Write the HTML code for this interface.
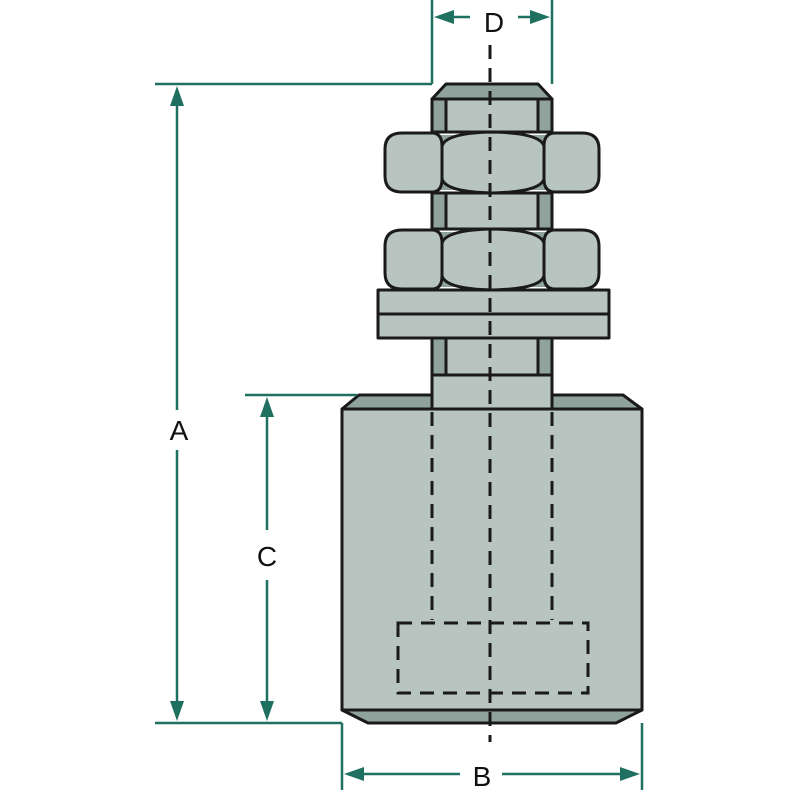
<!DOCTYPE html>
<html><head><meta charset="utf-8"><style>html,body{margin:0;padding:0;background:#fff}svg{display:block}</style></head>
<body>
<svg width="800" height="800" viewBox="0 0 800 800" xmlns="http://www.w3.org/2000/svg">
<defs>
<g id="nut">
  <rect x="392" y="3" width="200" height="55" fill="#8fa39c"/>
  <path d="M402,1 L432,1 Q442,1 442,14 L442,47 Q442,60 432,60 L402,60 Q385,60 385,44 L385,17 Q385,1 402,1 Z" fill="#b8c4c0" stroke="#1a1a1a" stroke-width="3"/>
  <path d="M555,1 L582,1 Q599,1 599,17 L599,44 Q599,60 582,60 L555,60 Q544,60 544,47 L544,14 Q544,1 555,1 Z" fill="#b8c4c0" stroke="#1a1a1a" stroke-width="3"/>
  <path d="M442,14 Q446,1 492,0 Q540,1 544,14 L544,47 Q540,60 492,61 Q446,60 442,47 Z" fill="#b8c4c0" stroke="#1a1a1a" stroke-width="3"/>
</g>
</defs>
<g stroke="#1a1a1a" stroke-width="3" stroke-linejoin="round">
  <rect x="342" y="409" width="300" height="301" fill="#b8c4c0"/>
  <polygon points="359,395 623,395 642,409 342,409" fill="#8fa39c"/>
  <polygon points="342,710 642,710 616,723 368,723" fill="#8fa39c"/>
  <rect x="432" y="375" width="120" height="34" fill="#b8c4c0"/>
  <rect x="432" y="338" width="120" height="37" fill="#8fa39c"/>
  <rect x="446" y="338" width="92" height="37" fill="#b8c4c0"/>
  <rect x="432" y="193" width="120" height="36" fill="#8fa39c"/>
  <rect x="446" y="193" width="92" height="36" fill="#b8c4c0"/>
  <rect x="432" y="99" width="120" height="33" fill="#8fa39c"/>
  <rect x="446" y="99" width="92" height="33" fill="#b8c4c0"/>
  <polygon points="446,84 538,84 552,99 432,99" fill="#8fa39c"/>
  <rect x="378" y="290" width="231" height="24" fill="#b8c4c0"/>
  <rect x="378" y="314" width="231" height="24" fill="#b8c4c0"/>
</g>
<use href="#nut" y="132"/>
<use href="#nut" y="229"/>
<g stroke="#1a1a1a" stroke-width="3" fill="none" stroke-dasharray="14,9">
  <line x1="432" y1="412" x2="432" y2="620"/>
  <line x1="552" y1="412" x2="552" y2="620"/>
  <rect x="398" y="623" width="190" height="70"/>
  <line x1="490" y1="45" x2="490" y2="742"/>
</g>
<g stroke="#1f7060" stroke-width="2.5" fill="none">
  <line x1="155" y1="84" x2="432" y2="84"/>
  <line x1="155" y1="723" x2="342" y2="723"/>
  <line x1="245" y1="395" x2="357" y2="395"/>
  <line x1="432" y1="0" x2="432" y2="84"/>
  <line x1="552" y1="0" x2="552" y2="84"/>
  <line x1="342" y1="723" x2="342" y2="790"/>
  <line x1="642" y1="723" x2="642" y2="790"/>
  <line x1="177" y1="100" x2="177" y2="410"/>
  <line x1="177" y1="450" x2="177" y2="708"/>
  <line x1="267" y1="410" x2="267" y2="530"/>
  <line x1="267" y1="580" x2="267" y2="708"/>
  <line x1="447" y1="17" x2="470" y2="17"/>
  <line x1="518" y1="17" x2="537" y2="17"/>
  <line x1="357" y1="774" x2="460" y2="774"/>
  <line x1="502" y1="774" x2="627" y2="774"/>
</g>
<g fill="#1f7060">
  <polygon points="177,86 170,106 184,106"/>
  <polygon points="177,721 170,701 184,701"/>
  <polygon points="267,397 260,417 274,417"/>
  <polygon points="267,721 260,701 274,701"/>
  <polygon points="434,17 454,10 454,24"/>
  <polygon points="550,17 530,10 530,24"/>
  <polygon points="344,774 364,767 364,781"/>
  <polygon points="640,774 620,767 620,781"/>
</g>
<g font-family="Liberation Sans, sans-serif" font-size="28" fill="#111" text-anchor="middle">
  <text x="179" y="440">A</text>
  <text x="267" y="566">C</text>
  <text x="494" y="32">D</text>
  <text x="482" y="786">B</text>
</g>
</svg>
</body></html>
